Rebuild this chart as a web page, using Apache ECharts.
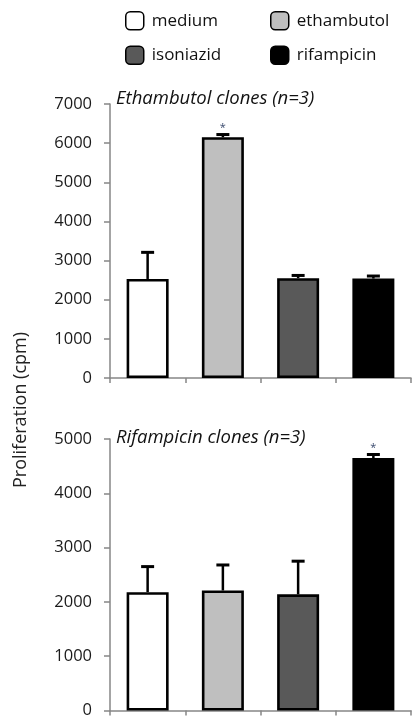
<!DOCTYPE html>
<html>
<head>
<meta charset="utf-8">
<script src="https://cdn.jsdelivr.net/npm/echarts@6/dist/echarts.min.js"></script>
<style>
html,body{margin:0;padding:0;background:#fff;}
#chart{width:412px;height:719px;}
</style>
</head>
<body>
<div id="chart"></div>
<script>
const categories = ['medium', 'ethambutol', 'isoniazid', 'rifampicin'];
const barColors = ['#FFFFFF', '#BFBFBF', '#595959', '#000000'];
const ethTicks = [0, 1000, 2000, 3000, 4000, 5000, 6000, 7000];
const rifTicks = [0, 1000, 2000, 3000, 4000, 5000];
const ethMeans = [2530, 6150, 2550, 2540];
const ethErrors = [680, 70, 70, 65];
const ethSignificant = [false, true, false, false];
const rifMeans = [2180, 2210, 2140, 4650];
const rifErrors = [470, 470, 610, 65];
const rifSignificant = [false, false, false, true];
const titles = ['Ethambutol clones (n=3)', 'Rifampicin clones (n=3)'];
const yName = 'Proliferation (cpm)';

const FONT = '"Open Sans", sans-serif';
const axisGrey = '#868686';

function barSeries(gridIdx, means) {
  return categories.map((name, i) => ({
    name: name,
    type: 'bar',
    xAxisIndex: gridIdx,
    yAxisIndex: gridIdx,
    barWidth: 42,
    barGap: '-100%',
    itemStyle: { color: barColors[i], borderColor: '#000', borderWidth: 2.6 },
    data: means.map((v, j) => (j === i ? v : '-')),
    z: 2
  }));
}

function errSeries(gridIdx, means, errs, sig) {
  return {
    type: 'custom',
    xAxisIndex: gridIdx,
    yAxisIndex: gridIdx,
    z: 3,
    silent: true,
    data: means.map((m, i) => [i, m, errs[i], sig[i] ? 1 : 0]),
    encode: { x: 0, y: 1 },
    renderItem: function (params, api) {
      const x = api.value(0), m = api.value(1), e = api.value(2), s = api.value(3);
      const base = api.coord([x, m]);
      const top = api.coord([x, m + e]);
      const children = [
        { type: 'line', shape: { x1: base[0], y1: base[1], x2: top[0], y2: top[1] },
          style: { stroke: '#000', lineWidth: 2.5 } },
        { type: 'line', shape: { x1: top[0] - 6.5, y1: top[1], x2: top[0] + 6.5, y2: top[1] },
          style: { stroke: '#000', lineWidth: 3 } }
      ];
      if (s) {
        children.push({ type: 'text', x: top[0], y: top[1] - 1,
          style: { text: '*', fill: '#3a4a6e', font: '11px ' + FONT, align: 'center', verticalAlign: 'bottom' } });
      }
      return { type: 'group', children: children };
    }
  };
}

function yAxisCfg(gridIdx, ticks) {
  return {
    type: 'value', gridIndex: gridIdx,
    min: ticks[0], max: ticks[ticks.length - 1], interval: ticks[1] - ticks[0],
    axisLine: { show: true, lineStyle: { color: axisGrey, width: 1.5 } },
    axisTick: { show: true, length: 6, lineStyle: { color: axisGrey, width: 1.5 } },
    splitLine: { show: false },
    axisLabel: { color: '#1a1a1a', fontSize: 16.5, fontFamily: FONT, margin: 18,
      formatter: function (v) { return String(v); } }
  };
}

function xAxisCfg(gridIdx) {
  return {
    type: 'category', gridIndex: gridIdx, data: categories,
    axisLine: { show: true, lineStyle: { color: axisGrey, width: 1.5 } },
    axisTick: { show: true, length: 5, interval: 0, lineStyle: { color: axisGrey, width: 1.5 } },
    axisLabel: { show: false },
    splitLine: { show: false }
  };
}

const chart = echarts.init(document.getElementById('chart'));
chart.setOption({
  animation: false,
  backgroundColor: '#fff',
  textStyle: { fontFamily: FONT },
  title: [
    { text: titles[0], left: 116, top: 89,
      textStyle: { fontStyle: 'italic', fontWeight: 'normal', fontSize: 18.5, color: '#111', fontFamily: FONT }, padding: 0 },
    { text: titles[1], left: 116, top: 428,
      textStyle: { fontStyle: 'italic', fontWeight: 'normal', fontSize: 18.5, color: '#111', fontFamily: FONT }, padding: 0 }
  ],
  legend: [
    { data: ['medium', 'isoniazid'], orient: 'vertical', left: 125, top: 11, padding: 0,
      itemWidth: 18, itemHeight: 18, itemGap: 15, selectedMode: false,
      itemStyle: { borderColor: '#000', borderWidth: 1.5 },
      textStyle: { fontSize: 17, color: '#111', fontFamily: FONT, padding: [0, 0, 0, 3] } },
    { data: ['ethambutol', 'rifampicin'], orient: 'vertical', left: 270, top: 11, padding: 0,
      itemWidth: 18, itemHeight: 18, itemGap: 15, selectedMode: false,
      itemStyle: { borderColor: '#000', borderWidth: 1.5 },
      textStyle: { fontSize: 17, color: '#111', fontFamily: FONT, padding: [0, 0, 0, 3] } }
  ],
  graphic: [
    { type: 'text', x: 21, y: 410, rotation: Math.PI / 2,
      style: { text: yName, font: '18px ' + FONT, fill: '#222', align: 'center', verticalAlign: 'middle' } }
  ],
  grid: [
    { left: 110, top: 104, width: 301, height: 274 },
    { left: 110, top: 439, width: 301, height: 274 }
  ],
  xAxis: [xAxisCfg(0), xAxisCfg(1)],
  yAxis: [yAxisCfg(0, ethTicks), yAxisCfg(1, rifTicks)],
  series: [
    ...barSeries(0, ethMeans),
    errSeries(0, ethMeans, ethErrors, ethSignificant),
    ...barSeries(1, rifMeans),
    errSeries(1, rifMeans, rifErrors, rifSignificant)
  ]
});
</script>
</body>
</html>
